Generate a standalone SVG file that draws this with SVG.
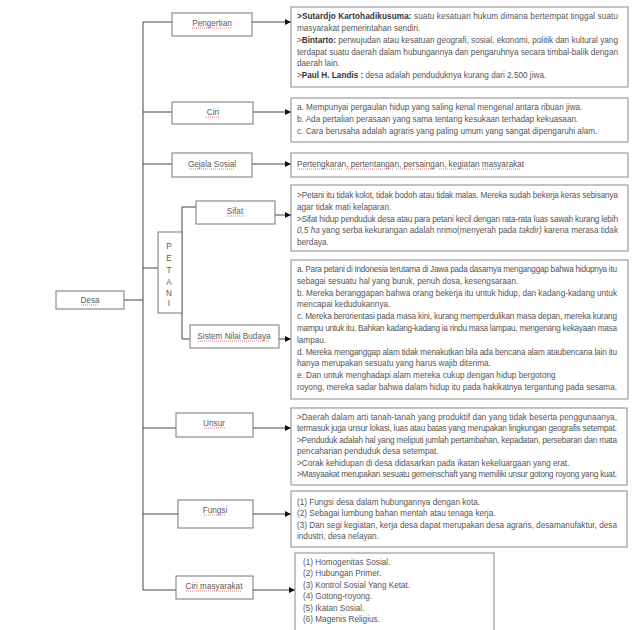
<svg xmlns="http://www.w3.org/2000/svg" width="640" height="630" viewBox="0 0 640 630">
<defs>
<style>
.t{font-family:"Liberation Sans",Arial,sans-serif;font-size:8.2px;fill:#555}
.n{font-family:"Liberation Sans",Arial,sans-serif;font-size:8.2px;fill:#5a5a5a;text-anchor:middle}
.b{font-weight:bold;fill:#333}
.i{font-style:italic}
.box{fill:#fff;stroke:#777;stroke-width:1}
.tb{fill:#fff;stroke:#888;stroke-width:1}
.c{stroke:#444;stroke-width:1;fill:none}
.sq{stroke:#e03a3a;stroke-width:0.7;stroke-dasharray:1 1;fill:none}
</style>
<marker id="ah" markerUnits="userSpaceOnUse" markerWidth="7" markerHeight="6" refX="6" refY="3" orient="auto">
<path d="M0,0 L6,3 L0,6 z" fill="#111"/>
</marker>
</defs>
<rect width="640" height="630" fill="#fff"/>

<g id="connectors">
<path class="c" d="M143,22 V590"/>
<path class="c" d="M124,300 H143"/>
<path class="c" d="M143,22 H172"/>
<path class="c" d="M143,112 H172"/>
<path class="c" d="M143,164 H172"/>
<path class="c" d="M143,268 H158"/>
<path class="c" d="M143,428 H176"/>
<path class="c" d="M143,514 H178"/>
<path class="c" d="M143,590 H176"/>
<path class="c" d="M182,207 V339 M182,207 H196 M182,339 H190"/>
<path class="c" d="M252,22 H291" marker-end="url(#ah)"/>
<path class="c" d="M253,112 H291" marker-end="url(#ah)"/>
<path class="c" d="M252,164 H291" marker-end="url(#ah)"/>
<path class="c" d="M275,215 H291" marker-end="url(#ah)"/>
<path class="c" d="M279,339 H291" marker-end="url(#ah)"/>
<path class="c" d="M253,428 H291" marker-end="url(#ah)"/>
<path class="c" d="M253,514 H291" marker-end="url(#ah)"/>
<path class="c" d="M253,590 H295" marker-end="url(#ah)"/>
</g>

<g id="desa">
<rect class="box" x="56" y="291" width="68" height="18"/>
<text class="n" x="90" y="303">Desa</text>
<path class="sq" d="M81,305 H99"/>
</g>

<g id="pengertian">
<rect class="box" x="172" y="13" width="80" height="23"/>
<text class="n" x="212" y="26">Pengertian</text>
<path class="sq" d="M192,28 H232"/>
</g>
<g id="ciri">
<rect class="box" x="172" y="102" width="81" height="22"/>
<text class="n" x="213" y="115">Ciri</text>
<path class="sq" d="M206,117 H220"/>
</g>
<g id="gejala">
<rect class="box" x="172" y="153" width="80" height="24"/>
<text class="n" x="212" y="167">Gejala Sosial</text>
<path class="sq" d="M189,169 H235"/>
</g>
<g id="petani">
<rect class="box" x="158" y="232" width="24" height="81"/>
<text class="n" x="169" y="249">P</text>
<text class="n" x="169" y="261">E</text>
<text class="n" x="169" y="273">T</text>
<text class="n" x="169" y="285">A</text>
<text class="n" x="169" y="296">N</text>
<text class="n" x="169" y="306">I</text>
</g>
<g id="sifat">
<rect class="box" x="196" y="201" width="79" height="23"/>
<text class="n" x="235" y="214">Sifat</text>
<path class="sq" d="M227,216 H244"/>
</g>
<g id="sistem">
<rect class="box" x="190" y="325" width="89" height="23"/>
<text class="n" x="234" y="339">Sistem Nilai Budaya</text>
<path class="sq" d="M198,341 H270"/>
</g>
<g id="unsur">
<rect class="box" x="176" y="413" width="77" height="24"/>
<text class="n" x="214" y="426">Unsur</text>
<path class="sq" d="M204,428 H225"/>
</g>
<g id="fungsi">
<rect class="box" x="178" y="500" width="75" height="28"/>
<text class="n" x="215" y="513">Fungsi</text>
<path class="sq" d="M204,515 H226"/>
</g>
<g id="ciri-masyarakat">
<rect class="box" x="176" y="576" width="77" height="23"/>
<text class="n" x="214" y="589">Ciri masyarakat</text>
<path class="sq" d="M186,591 H242"/>
</g>

<g id="txt-pengertian">
<rect class="tb" x="291" y="7" width="337" height="80"/>
<text class="t" x="297" y="19" textLength="321" lengthAdjust="spacing"><tspan class="b">&gt;Sutardjo Kartohadikusuma:</tspan> suatu kesatuan hukum dimana bertempat tinggal suatu</text>
<text class="t" x="297" y="31">masyarakat pemerintahan sendiri.</text>
<text class="t" x="297" y="43" textLength="321" lengthAdjust="spacing">&gt;<tspan class="b">Bintarto:</tspan> perwujudan atau kesatuan geografi, sosial, ekonomi, politik dan kultural yang</text>
<text class="t" x="297" y="55" textLength="321" lengthAdjust="spacing">terdapat suatu daerah dalam hubungannya dan pengaruhnya secara timbal-balik dengan</text>
<text class="t" x="297" y="66">daerah lain.</text>
<text class="t" x="297" y="78">&gt;<tspan class="b">Paul H. Landis :</tspan> desa adalah penduduknya kurang dari 2.500 jiwa.</text>
</g>

<g id="txt-ciri">
<rect class="tb" x="291" y="98" width="337" height="44"/>
<text class="t" x="297" y="110">a. Mempunyai pergaulan hidup yang saling kenal mengenal antara ribuan jiwa.</text>
<text class="t" x="297" y="122">b. Ada pertalian perasaan yang sama tentang kesukaan terhadap kekuasaan.</text>
<text class="t" x="297" y="134">c. Cara berusaha adalah agraris yang paling umum yang sangat dipengaruhi alam.</text>
</g>

<g id="txt-gejala">
<rect class="tb" x="291" y="153" width="337" height="24"/>
<text class="t" x="297" y="167">Pertengkaran, pertentangan, persaingan, kegiatan masyarakat</text>
<path class="sq" d="M297,169 H343 M346,169 H393 M396,169 H436 M439,169 H470 M473,169 H520"/>
</g>

<g id="txt-sifat">
<rect class="tb" x="291" y="185" width="337" height="66"/>
<text class="t" x="297" y="198" textLength="321" lengthAdjust="spacing">&gt;Petani itu tidak kolot, tidak bodoh atau tidak malas. Mereka sudah bekerja keras sebisanya</text>
<text class="t" x="297" y="210">agar tidak mati kelaparan.</text>
<text class="t" x="297" y="222" textLength="321" lengthAdjust="spacing">&gt;Sifat hidup penduduk desa atau para petani kecil dengan rata-rata luas sawah kurang lebih</text>
<text class="t" x="297" y="233" textLength="321" lengthAdjust="spacing"><tspan class="i">0,5 ha</tspan> yang serba kekurangan adalah nrimo(menyerah pada <tspan class="i">takdir)</tspan> karena merasa tidak</text>
<text class="t" x="297" y="245">berdaya.</text>
</g>

<g id="txt-sistem">
<rect class="tb" x="291" y="260" width="337" height="139"/>
<text class="t" x="297" y="272" textLength="320" lengthAdjust="spacing">a. Para petani di Indonesia terutama di Jawa pada dasarnya menganggap bahwa hidupnya itu</text>
<text class="t" x="297" y="284">sebagai sesuatu hal yang buruk, penuh dosa, kesengsaraan.</text>
<text class="t" x="297" y="296" textLength="320" lengthAdjust="spacing">b. Mereka beranggapan bahwa orang bekerja itu untuk hidup, dan kadang-kadang untuk</text>
<text class="t" x="297" y="307">mencapai kedudukannya.</text>
<text class="t" x="297" y="319" textLength="320" lengthAdjust="spacing">c. Mereka berorientasi pada masa kini, kurang memperdulikan masa depan, mereka kurang</text>
<text class="t" x="297" y="331" textLength="320" lengthAdjust="spacing">mampu untuk itu. Bahkan kadang-kadang ia rindu masa  lampau, mengenang kekayaan masa</text>
<text class="t" x="297" y="343">lampau.</text>
<text class="t" x="297" y="355" textLength="320" lengthAdjust="spacing">d. Mereka menganggap alam tidak menakutkan bila ada bencana alam ataubencana lain itu</text>
<text class="t" x="297" y="366">hanya merupakan sesuatu  yang harus wajib diterima.</text>
<text class="t" x="297" y="378">e. Dan untuk menghadapi alam mereka cukup dengan hidup bergotong</text>
<text class="t" x="297" y="390" textLength="320" lengthAdjust="spacing">royong, mereka sadar bahwa dalam hidup itu pada hakikatnya  tergantung pada sesama.</text>
</g>

<g id="txt-unsur">
<rect class="tb" x="291" y="408" width="336" height="77"/>
<text class="t" x="297" y="420" textLength="320" lengthAdjust="spacing">&gt;Daerah dalam arti tanah-tanah yang produktif dan yang tidak beserta penggunaanya,</text>
<text class="t" x="297" y="431" textLength="320" lengthAdjust="spacing">termasuk juga unsur lokasi, luas atau batas yang merupakan lingkungan geografis setempat.</text>
<text class="t" x="297" y="443" textLength="320" lengthAdjust="spacing">&gt;Penduduk adalah hal yang meliputi jumlah pertambahan, kepadatan, persebaran dan mata</text>
<text class="t" x="297" y="454">pencaharian penduduk desa setempat.</text>
<text class="t" x="297" y="466">&gt;Corak kehidupan di desa didasarkan pada ikatan kekeluargaan yang erat.</text>
<text class="t" x="297" y="477" textLength="320" lengthAdjust="spacing">&gt;Masyaakat merupakan sesuatu gemeinschaft yang memiliki unsur gotong royong yang kuat.</text>
</g>

<g id="txt-fungsi">
<rect class="tb" x="291" y="491" width="336" height="56"/>
<text class="t" x="297" y="505">(1) Fungsi desa dalam hubungannya dengan kota.</text>
<text class="t" x="297" y="516">(2) Sebagai lumbung bahan mentah atau tenaga kerja.</text>
<text class="t" x="297" y="528" textLength="320" lengthAdjust="spacing">(3) Dan segi kegiatan, kerja desa dapat merupakan desa agraris, desamanufaktur, desa</text>
<text class="t" x="297" y="539">industri, desa nelayan.</text>
</g>

<g id="txt-ciri-masyarakat">
<rect class="tb" x="295" y="553" width="199" height="85"/>
<text class="t" x="303" y="565">(1) Homogenitas Sosial.</text>
<text class="t" x="303" y="576">(2) Hubungan Primer.</text>
<text class="t" x="303" y="588">(3) Kontrol Sosial Yang Ketat.</text>
<text class="t" x="303" y="599">(4) Gotong-royong.</text>
<text class="t" x="303" y="611">(5) Ikatan Sosial.</text>
<text class="t" x="303" y="622">(6) Magenis Religius.</text>
</g>
</svg>
